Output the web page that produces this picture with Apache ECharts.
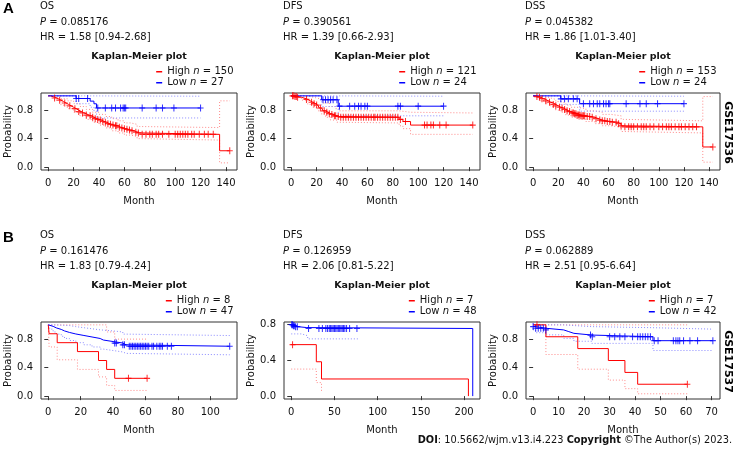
<!DOCTYPE html>
<html><head><meta charset="utf-8">
<script src="https://cdn.jsdelivr.net/npm/echarts@6/dist/echarts.min.js"></script>
<style>html,body{margin:0;padding:0;background:#fff}#c{width:734px;height:452px}</style>
</head><body><div id="c"></div>
<script>
// ================= DATA =================
const rowLabels = ['A', 'B'];
const datasetLabels = ['GSE17536', 'GSE17537'];
const endpoints = ['OS', 'DFS', 'DSS'];
const pValues = [['0.085176', '0.390561', '0.045382'], ['0.161476', '0.126959', '0.062889']];
const hrTexts = [['1.58 [0.94-2.68]', '1.39 [0.66-2.93]', '1.86 [1.01-3.40]'], ['1.83 [0.79-4.24]', '2.06 [0.81-5.22]', '2.51 [0.95-6.64]']];
const nHigh = [[150, 121, 153], [8, 7, 7]];
const nLow = [[27, 24, 24], [47, 48, 42]];
const xTicksA = [0, 20, 40, 60, 80, 100, 120, 140];
const xTicksB1 = [0, 20, 40, 60, 80, 100];
const xTicksB2 = [0, 50, 100, 150, 200];
const xTicksB3 = [0, 10, 20, 30, 40, 50, 60, 70];
const yTicks = [0, 0.4, 0.8];
const doiText = '10.5662/wjm.v13.i4.223';
const copyrightText = '©The Author(s) 2023.';

// --- A1: GSE17536 OS ---
const a1HighSteps = [[0,1],[2,0.99],[3,0.98],[5,0.97],[6,0.96],[8,0.94],[10,0.92],[12,0.9],[14,0.88],[16,0.86],[18,0.84],[20,0.82],[22,0.8],[24,0.78],[26,0.76],[28,0.75],[30,0.73],[32,0.72],[34,0.7],[36,0.68],[38,0.67],[40,0.66],[42,0.64],[44,0.63],[46,0.61],[48,0.6],[50,0.59],[52,0.58],[55,0.56],[57,0.55],[59,0.54],[61,0.53],[63,0.52],[65,0.51],[68,0.49],[70,0.48],[72,0.46],[135,0.23]];
const a1HighCens = [5,9,13,17,21,24,27,30,33,35,37,39,41,43,45,47,49,51,53,54,56,58,60,62,64,66,69,71,74,77,80,82,85,87,90,95,100,102,104,106,108,110,113,115,119,123,126,130,143];
const a1HighUpper = [[0,1],[5,0.995],[10,0.96],[15,0.93],[20,0.89],[25,0.85],[30,0.81],[35,0.77],[40,0.74],[45,0.71],[50,0.68],[55,0.65],[60,0.62],[65,0.6],[70,0.57],[72,0.555],[135,0.93],[143,0.93]];
const a1HighLower = [[0,1],[5,0.94],[10,0.87],[15,0.82],[20,0.77],[25,0.72],[30,0.67],[35,0.63],[40,0.59],[45,0.55],[50,0.51],[55,0.48],[60,0.45],[65,0.43],[70,0.4],[72,0.38],[135,0.06],[143,0.06]];
const a1LowSteps = [[0,1],[22,0.963],[33,0.926],[36,0.889],[38,0.83]];
const a1LowCens = [22,24,31,39,45,50,53,57,59,60,61,74,85,90,99,120];
const a1LowUpper = [[0,1],[22,0.995],[120,0.995]];
const a1LowLower = [[0,1],[22,0.89],[33,0.84],[36,0.79],[38,0.69],[120,0.69]];

// --- A2: GSE17536 DFS ---
const a2HighSteps = [[0,1],[3,0.99],[5,0.98],[8,0.97],[10,0.95],[13,0.93],[15,0.91],[17,0.89],[19,0.87],[21,0.85],[22,0.83],[24,0.81],[25,0.79],[27,0.77],[29,0.75],[31,0.74],[33,0.72],[36,0.71],[38,0.7],[85,0.67],[88,0.64],[94,0.59]];
const a2HighCens = [1,2,3,4,5,12,16,18,20,23,26,28,30,32,34,35,37,39,41,43,45,47,49,51,53,55,57,59,61,63,65,66,68,70,72,74,76,78,80,82,84,86,90,105,107,110,112,117,122,143];
const a2HighUpper = [[0,1],[10,0.99],[15,0.97],[20,0.95],[25,0.9],[30,0.85],[35,0.82],[38,0.79],[85,0.77],[94,0.76],[143,0.76]];
const a2HighLower = [[0,1],[8,0.94],[13,0.88],[17,0.84],[21,0.79],[24,0.74],[27,0.7],[31,0.66],[36,0.63],[38,0.62],[85,0.58],[88,0.54],[94,0.46],[143,0.46]];
const a2LowSteps = [[0,1],[24,0.945],[37,0.855]];
const a2LowCens = [25,27,29,31,33,36,38,46,50,53,55,58,60,84,86,100,120];
const a2LowUpper = [[0,1],[24,0.995],[120,0.995]];
const a2LowLower = [[0,1],[24,0.85],[37,0.72],[120,0.72]];

// --- A3: GSE17536 DSS ---
const a3HighSteps = [[0,1],[2,0.99],[4,0.98],[6,0.96],[8,0.95],[10,0.93],[12,0.91],[14,0.9],[16,0.88],[18,0.86],[20,0.84],[22,0.83],[24,0.81],[26,0.79],[28,0.78],[30,0.76],[33,0.75],[35,0.73],[38,0.72],[42,0.71],[46,0.7],[49,0.68],[52,0.66],[55,0.65],[58,0.64],[62,0.63],[67,0.61],[70,0.58],[72,0.565],[135,0.283]];
const a3HighCens = [3,5,7,10,13,16,18,21,23,25,27,29,31,32,33,34,35,36,37,38,39,40,41,43,45,47,50,53,55,57,59,61,63,66,68,70,73,76,78,80,83,86,88,90,93,96,100,103,106,108,110,113,116,118,121,124,127,130,143];
const a3HighUpper = [[0,1],[6,0.99],[10,0.97],[14,0.95],[18,0.92],[22,0.9],[26,0.87],[30,0.84],[35,0.82],[42,0.79],[49,0.77],[55,0.74],[62,0.72],[70,0.67],[72,0.65],[135,0.99],[143,0.99]];
const a3HighLower = [[0,1],[6,0.93],[10,0.89],[14,0.85],[18,0.8],[22,0.77],[26,0.73],[30,0.7],[35,0.67],[42,0.64],[49,0.61],[55,0.58],[62,0.56],[70,0.5],[72,0.48],[135,0.07],[143,0.07]];
const a3LowSteps = [[0,1],[22,0.958],[37,0.89]];
const a3LowCens = [22,25,28,32,35,40,45,48,51,53,56,58,60,61,74,85,90,99,120];
const a3LowUpper = [[0,1],[22,0.995],[120,0.995]];
const a3LowLower = [[0,1],[22,0.88],[37,0.785],[120,0.785]];

// --- B1: GSE17537 OS ---
const b1HighSteps = [[0,1],[0.5,0.875],[5.5,0.75],[18,0.625],[31,0.5],[36,0.375],[41,0.25]];
const b1HighCens = [49.5,61];
const b1HighUpper = [[0,1],[36,0.9],[41,0.8],[61,0.8]];
const b1HighLower = [[0,1],[0.5,0.69],[5.5,0.51],[18,0.375],[31,0.27],[36,0.15],[41,0.08],[61,0.08]];
const b1LowSteps = [[0,1],[1,0.979],[3,0.957],[5,0.936],[8,0.915],[10,0.894],[13,0.872],[17,0.851],[22,0.83],[27,0.809],[32,0.787],[34,0.766],[40,0.745],[46,0.72],[48,0.7]];
const b1LowCens = [41,42,46,47,50,51,52,53,54,55,56,57,58,59,60,61,62,64,65,67,68.5,69.5,70.5,73.5,76,112];
const b1LowUpper = [[0,1],[3,0.995],[8,0.99],[13,0.975],[17,0.96],[22,0.945],[27,0.93],[32,0.915],[40,0.9],[46,0.87],[48,0.85],[112,0.85]];
const b1LowLower = [[0,1],[1,0.94],[3,0.9],[5,0.87],[8,0.84],[10,0.81],[13,0.78],[17,0.75],[22,0.72],[27,0.69],[32,0.66],[34,0.64],[40,0.62],[46,0.6],[48,0.58],[112,0.58]];

// --- B2: GSE17537 DFS ---
const b2HighSteps = [[0,0.571],[29,0.381],[35,0.19],[205,0]];
const b2HighCens = [1.5];
const b2HighUpper = [];
const b2HighLower = [[0,0.3],[29,0.15],[35,0.045]];
const b2LowSteps = [[0,0.792],[2,0.78],[5,0.77],[8,0.76],[18,0.75],[210,0]];
const b2LowCens = [0.5,1.5,2.5,3.5,5,7,20,32,36,40,42,44,45.5,47,48.5,50,51.5,53,54.5,56,57.5,59,60.5,62,64,67.5,76];
const b2LowUpper = [];
const b2LowLower = [[0,0.69],[12,0.67],[19,0.635],[77,0.635]];

// --- B3: GSE17537 DSS ---
const b3HighSteps = [[0,1],[5,0.833],[17.5,0.667],[29.5,0.5],[36,0.333],[41,0.167]];
const b3HighCens = [1.5,60.5];
const b3HighUpper = [[0,1],[60.5,1]];
const b3HighLower = [[0,1],[5,0.584],[17.5,0.378],[29.5,0.225],[36,0.105],[41,0.033],[60.5,0.033]];
const b3LowSteps = [[0,0.976],[1,0.952],[5,0.929],[12,0.905],[14,0.881],[16,0.857],[23,0.833],[47,0.778]];
const b3LowCens = [0,1,2,3,4,5,22.5,23.2,30,32,34,36,39,41,42,43,44,45,46,47.5,49,55,56,56.8,57.5,59,61.5,64.5,70.5];
const b3LowUpper = [[0,1],[12,0.99],[16,0.975],[23,0.96],[47,0.94],[70.5,0.94]];
const b3LowLower = [[0,0.93],[1,0.89],[5,0.86],[12,0.81],[16,0.77],[23,0.74],[47,0.64],[70.5,0.64]];

// ================= LAYOUT / STYLE =================
const FONT = 'DejaVu Sans';
const TXT = '#111';
const RED = '#ff0000', BLUE = '#0000ff';
const RED_CI = '#ff8a8a', BLUE_CI = '#8a8aff';
const colLeft = [41, 284, 526];
const colWidth = [196, 196, 194];
const rowTop = [93, 322];
const boxH = 77;

const panels = [
  {r:0,c:0,hs:a1HighSteps,hc:a1HighCens,hu:a1HighUpper,hl:a1HighLower,ls:a1LowSteps,lc:a1LowCens,lu:a1LowUpper,ll:a1LowLower,xt:xTicksA,xr:[-5.7,148.7],yr:[-0.04,1.04]},
  {r:0,c:1,hs:a2HighSteps,hc:a2HighCens,hu:a2HighUpper,hl:a2HighLower,ls:a2LowSteps,lc:a2LowCens,lu:a2LowUpper,ll:a2LowLower,xt:xTicksA,xr:[-5.7,148.7],yr:[-0.04,1.04]},
  {r:0,c:2,hs:a3HighSteps,hc:a3HighCens,hu:a3HighUpper,hl:a3HighLower,ls:a3LowSteps,lc:a3LowCens,lu:a3LowUpper,ll:a3LowLower,xt:xTicksA,xr:[-5.7,148.7],yr:[-0.04,1.04]},
  {r:1,c:0,hs:b1HighSteps,hc:b1HighCens,hu:b1HighUpper,hl:b1HighLower,ls:b1LowSteps,lc:b1LowCens,lu:b1LowUpper,ll:b1LowLower,xt:xTicksB1,xr:[-4.5,116.5],yr:[-0.04,1.04]},
  {r:1,c:1,hs:b2HighSteps,hc:b2HighCens,hu:b2HighUpper,hl:b2HighLower,ls:b2LowSteps,lc:b2LowCens,lu:b2LowUpper,ll:b2LowLower,xt:xTicksB2,xr:[-8.4,218.4],yr:[-0.032,0.822]},
  {r:1,c:2,hs:b3HighSteps,hc:b3HighCens,hu:b3HighUpper,hl:b3HighLower,ls:b3LowSteps,lc:b3LowCens,lu:b3LowUpper,ll:b3LowLower,xt:xTicksB3,xr:[-2.8,73.3],yr:[-0.04,1.04]}
];

const PLUS = 'path://M-0.17,-1H0.17V-0.17H1V0.17H0.17V1H-0.17V0.17H-1V-0.17H-0.17Z';

function survAt(steps, t) {
  let s = steps[0][1];
  for (const p of steps) { if (p[0] <= t) s = p[1]; else break; }
  return s;
}
function curvePts(steps, cens) {
  const pts = steps.map(p => [p[0], p[1]]);
  const last = steps[steps.length - 1];
  let endT = last[0];
  cens.forEach(t => { if (t > endT) endT = t; });
  if (endT > last[0]) pts.push([endT, last[1]]);
  return pts;
}
function lineS(name, gi, data, color, width, type, z) {
  return {type:'line', name, xAxisIndex:gi, yAxisIndex:gi, data, step:'end', showSymbol:false, symbol:'none',
    color, lineStyle:{color, width, type}, z, silent:true, animation:false, clip:true};
}
function censS(name, gi, steps, cens, color) {
  return {type:'scatter', name, xAxisIndex:gi, yAxisIndex:gi, data: cens.map(t => [t, survAt(steps, t)]),
    symbol: PLUS, symbolSize:[6,7], itemStyle:{color}, z:6, silent:true, animation:false};
}

const grid = [], xAxis = [], yAxis = [], series = [], legend = [], graphic = [];
const txtStyle = (extra) => Object.assign({fontFamily:FONT, fontSize:10, fill:TXT}, extra || {});

panels.forEach((p, gi) => {
  const left = colLeft[p.c], width = colWidth[p.c], top = rowTop[p.r];
  grid.push({left, top, width, height:boxH, show:true, borderColor:'#333', borderWidth:1, backgroundColor:'transparent', containLabel:false});
  xAxis.push({gridIndex:gi, type:'value', min:p.xr[0], max:p.xr[1],
    axisLine:{show:false}, splitLine:{show:false},
    axisTick:{show:true, length:4, customValues:p.xt, lineStyle:{color:'#333', width:1}},
    axisLabel:{customValues:p.xt, margin:8, fontFamily:FONT, fontSize:10, color:TXT},
    name:'Month', nameLocation:'middle', nameGap:26, nameTextStyle:{fontFamily:FONT, fontSize:10, color:TXT}});
  yAxis.push({gridIndex:gi, type:'value', min:p.yr[0], max:p.yr[1],
    axisLine:{show:false}, splitLine:{show:false},
    axisTick:{show:true, length:4, customValues:yTicks, lineStyle:{color:'#333', width:1}},
    axisLabel:{customValues:yTicks, margin:8, fontFamily:FONT, fontSize:10, color:TXT, formatter:v => Number(v).toFixed(1)},
    name:'Probability', nameLocation:'middle', nameGap:26, nameRotate:90, nameTextStyle:{fontFamily:FONT, fontSize:10, color:TXT}});

  const zw = gi === 5 ? '\u200b' : '';
  const hiName = 'High n = ' + nHigh[p.r][p.c] + zw;
  const loName = 'Low n = ' + nLow[p.r][p.c] + zw;
  if (p.hu.length) series.push(lineS('hu' + gi, gi, p.hu, RED_CI, 1, [1, 2], 2));
  if (p.hl.length) series.push(lineS('hl' + gi, gi, p.hl, RED_CI, 1, [1, 2], 2));
  if (p.lu.length) series.push(lineS('lu' + gi, gi, p.lu, BLUE_CI, 1, [1, 2], 2));
  if (p.ll.length) series.push(lineS('ll' + gi, gi, p.ll, BLUE_CI, 1, [1, 2], 2));
  series.push(lineS(hiName, gi, curvePts(p.hs, p.hc), RED, 1, 'solid', 4));
  series.push(lineS(loName, gi, curvePts(p.ls, p.lc), BLUE, 1, 'solid', 4));
  series.push(censS('hc' + gi, gi, p.hs, p.hc, RED));
  series.push(censS('lc' + gi, gi, p.ls, p.lc, BLUE));

  legend.push({data:[hiName, loName], orient:'vertical', right: 734 - (left + width) + 3.5, top: top - 26.5,
    itemWidth:6, itemHeight:1.5, itemGap:0.5, icon:'rect', padding:0, selectedMode:false,
    textStyle:{fontFamily:FONT, fontSize:10, color:TXT, lineHeight:10.5,
      rich:{i:{fontStyle:'italic', fontFamily:FONT, fontSize:10, color:TXT}}},
    formatter: n => n.replace('\u200b', '').replace(' n ', ' {i|n} ')});

  const tx = left - 1;
  graphic.push({type:'text', x:tx, y:top - 87, style:txtStyle({text:endpoints[p.c], textAlign:'left', textVerticalAlign:'middle'})});
  graphic.push({type:'text', x:tx, y:top - 71, style:txtStyle({text:'{i|P} = ' + pValues[p.r][p.c], textAlign:'left', textVerticalAlign:'middle',
    rich:{i:{fontStyle:'italic', fontFamily:FONT, fontSize:10, fill:TXT}}})});
  graphic.push({type:'text', x:tx, y:top - 56, style:txtStyle({text:'HR = ' + hrTexts[p.r][p.c], textAlign:'left', textVerticalAlign:'middle'})});
  graphic.push({type:'text', x:left + width / 2, y:top - 36, style:txtStyle({text:'Kaplan-Meier plot', fontWeight:'bold', fontSize:9.5, textAlign:'center', textVerticalAlign:'middle'})});
});

rowLabels.forEach((lab, r) => {
  graphic.push({type:'text', x:3, y:rowTop[r] - 84, style:{text:lab, fontFamily:'Liberation Sans', fontWeight:'bold', fontSize:15, fill:'#000', textAlign:'left', textVerticalAlign:'middle'}});
  graphic.push({type:'text', x:728, y:rowTop[r] + boxH / 2 + 1, rotation:-Math.PI / 2,
    style:{text:datasetLabels[r], fontFamily:FONT, fontWeight:'bold', fontSize:11, fill:'#000', textAlign:'center', textVerticalAlign:'middle'}});
});
graphic.push({type:'text', x:732, y:440, style:{text:'{b|DOI}: ' + doiText + ' {b|Copyright} ' + copyrightText,
  fontFamily:FONT, fontSize:9.8, fill:TXT, textAlign:'right', textVerticalAlign:'middle',
  rich:{b:{fontWeight:'bold', fontFamily:FONT, fontSize:9.8, fill:TXT}}}});

const chart = echarts.init(document.getElementById('c'), null, {renderer:'canvas'});
chart.setOption({animation:false, backgroundColor:'#fff', grid, xAxis, yAxis, series, legend, graphic});
</script></body></html>
